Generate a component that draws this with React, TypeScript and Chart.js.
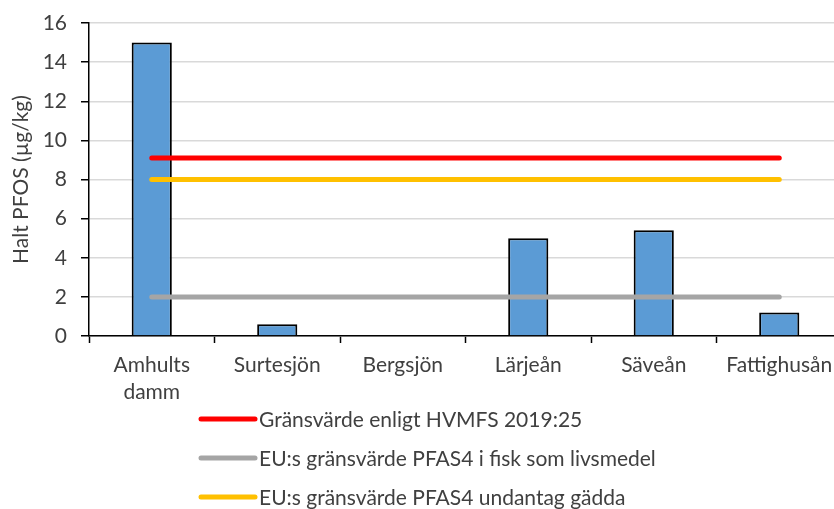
import { useEffect, useRef } from "react";
import { Chart, registerables } from "chart.js";

Chart.register(...registerables);

const categories: (string | string[])[] = [["Amhults", "damm"], "Surtesjön", "Bergsjön", "Lärjeån", "Säveån", "Fattighusån"];
const pfosValues = [15, 0.6, 0, 5, 5.4, 1.2];
const limitHVMFS = 9.1;
const limitEUFish = 2;
const limitEUPike = 8;
const yTickValues = [0, 2, 4, 6, 8, 10, 12, 14, 16];
const yTitle = "Halt PFOS (µg/kg)";
const labelHVMFS = "Gränsvärde enligt HVMFS 2019:25";
const labelEUFish = "EU:s gränsvärde PFAS4 i fisk som livsmedel";
const labelEUPike = "EU:s gränsvärde PFAS4 undantag gädda";

const FONT = "Lato, 'Open Sans', sans-serif";
const TEXT = "#404040";
const FS = 21;

const legendPlugin = {
  id: "stackedLegend",
  afterDraw(chart: any, _args: any, opts: any) {
    const ctx = chart.ctx;
    ctx.save();
    ctx.font = `${opts.fontSize}px ${FONT}`;
    ctx.textBaseline = "middle";
    ctx.textAlign = "left";
    const items = chart.data.datasets.filter((d: any) => d.type === "line");
    items.forEach((d: any, i: number) => {
      const y = opts.top + i * opts.spacing;
      ctx.strokeStyle = d.borderColor;
      ctx.lineWidth = 5;
      ctx.lineCap = "round";
      ctx.beginPath();
      ctx.moveTo(opts.left, y);
      ctx.lineTo(opts.left + opts.lineLength, y);
      ctx.stroke();
      ctx.fillStyle = TEXT;
      ctx.fillText(d.label, opts.left + opts.lineLength + 4, y + 1);
    });
    ctx.restore();
  },
};

export default function App() {
  const ref = useRef<HTMLCanvasElement>(null);
  useEffect(() => {
    if (!ref.current) return;
    const lineDs = (label: string, value: number, color: string) => ({
      type: "line" as const,
      label,
      data: categories.map(() => value),
      borderColor: color,
      backgroundColor: color,
      borderWidth: 5,
      borderCapStyle: "round" as const,
      pointRadius: 0,
      order: 1,
    });
    const chart = new Chart(ref.current, {
      type: "bar",
      data: {
        labels: categories as any,
        datasets: [
          {
            type: "bar",
            label: "PFOS",
            data: pfosValues,
            backgroundColor: "#5B9BD5",
            borderColor: "#000000",
            borderWidth: 2,
            barPercentage: 0.32,
            categoryPercentage: 1,
            order: 2,
          } as any,
          lineDs(labelHVMFS, limitHVMFS, "#FF0000"),
          lineDs(labelEUFish, limitEUFish, "#A5A5A5"),
          lineDs(labelEUPike, limitEUPike, "#FFC000"),
        ],
      },
      options: {
        animation: false,
        responsive: false,
        maintainAspectRatio: false,
        layout: { padding: 0 },
        plugins: {
          legend: { display: false },
          tooltip: { enabled: false },
          stackedLegend: { left: 201, top: 419, spacing: 39, lineLength: 54, fontSize: FS },
        } as any,
        scales: {
          x: {
            offset: true,
            grid: {
              offset: true,
              drawOnChartArea: false,
              drawTicks: true,
              tickLength: 7,
              tickColor: "#000000",
              tickWidth: 1.5,
            },
            border: { color: "#000000", width: 1.5 },
            ticks: {
              color: TEXT,
              font: { family: FONT, size: FS, lineHeight: 1.29 },
              padding: 9,
              maxRotation: 0,
              autoSkip: false,
            },
            afterFit(scale: any) {
              scale.height = 173;
              scale.paddingLeft = 0;
              scale.paddingRight = 0;
            },
          },
          y: {
            min: 0,
            max: 16,
            afterBuildTicks(scale: any) {
              scale.ticks = yTickValues.map((v) => ({ value: v }));
            },
            grid: {
              color: "#D9D9D9",
              lineWidth: 1.5,
              tickColor: "#000000",
              tickLength: 8,
              tickWidth: 1.5,
            },
            border: { color: "#000000", width: 1.5 },
            ticks: {
              color: TEXT,
              font: { family: FONT, size: FS },
              padding: 14,
            },
            title: {
              display: true,
              text: yTitle,
              color: TEXT,
              font: { family: FONT, size: FS },
              padding: { top: 9, bottom: 0 },
            },
            afterFit(scale: any) {
              scale.width = 89;
              scale.paddingTop = 23;
              scale.paddingBottom = 0;
            },
          },
        },
      },
      plugins: [legendPlugin],
    });
    return () => chart.destroy();
  }, []);
  return (
    <div style={{ position: "fixed", left: 0, top: 0, width: 834, height: 509, overflow: "hidden", background: "#fff" }}>
      <canvas ref={ref} width={842} height={509} style={{ display: "block" }} />
    </div>
  );
}
